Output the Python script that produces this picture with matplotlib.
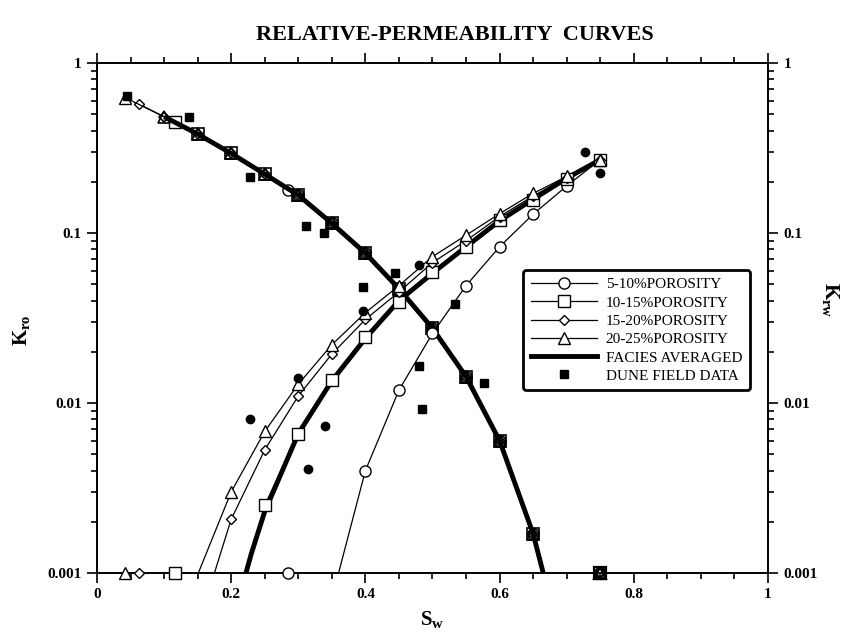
import matplotlib
matplotlib.use("Agg")
import matplotlib.pyplot as plt
from matplotlib.lines import Line2D
from matplotlib.ticker import MultipleLocator, LogLocator, FuncFormatter, NullFormatter

plt.rcParams['font.family'] = ['Liberation Serif', 'DejaVu Serif']
plt.rcParams['mathtext.fontset'] = 'custom'
plt.rcParams['mathtext.rm'] = 'Liberation Serif'
plt.rcParams['mathtext.bf'] = 'Liberation Serif:bold'

# porosity classes
labels = ["5-10%POROSITY", "10-15%POROSITY", "15-20%POROSITY", "20-25%POROSITY"]
markers = ['o', 's', 'D', '^']
msizes = [8, 8, 5.5, 8]

# irreducible water saturation and Kro there (one per class)
swc = [0.285, 0.116, 0.063, 0.042]
kro_swc = [0.179, 0.452, 0.571, 0.625]

# shared Kro curve
kro_sw = [0.10, 0.15, 0.20, 0.25, 0.30, 0.35, 0.40, 0.45, 0.50, 0.55, 0.60, 0.65]
kro_val = [0.483, 0.382, 0.294, 0.222, 0.167, 0.114, 0.076, 0.047, 0.0275, 0.0143, 0.006, 0.0017]
kro_end_sw = 0.665
sw_max = 0.75

# Krw curves (first point is where the line leaves the bottom axis)
krw_sw = [
    [0.36, 0.40, 0.45, 0.50, 0.55, 0.60, 0.65, 0.70, 0.75],
    [0.222, 0.25, 0.30, 0.35, 0.40, 0.45, 0.50, 0.55, 0.60, 0.65, 0.70, 0.75],
    [0.175, 0.20, 0.25, 0.30, 0.35, 0.40, 0.45, 0.50, 0.55, 0.60, 0.65, 0.70, 0.75],
    [0.151, 0.20, 0.25, 0.30, 0.35, 0.40, 0.45, 0.50, 0.55, 0.60, 0.65, 0.70, 0.75],
]
krw_val = [
    [0.001, 0.004, 0.0119, 0.0257, 0.049, 0.083, 0.129, 0.189, 0.27],
    [0.001, 0.0025, 0.0066, 0.0137, 0.0246, 0.0394, 0.059, 0.083, 0.119, 0.156, 0.208, 0.27],
    [0.001, 0.00207, 0.0053, 0.011, 0.0194, 0.031, 0.045, 0.067, 0.09, 0.125, 0.165, 0.212, 0.27],
    [0.001, 0.003, 0.0068, 0.0129, 0.022, 0.034, 0.049, 0.0726, 0.097, 0.13, 0.171, 0.215, 0.27],
]

# facies averaged Krw
avg_krw_sw = [0.222, 0.23, 0.25, 0.30, 0.35, 0.40, 0.45, 0.50, 0.55, 0.60, 0.65, 0.70, 0.75]
avg_krw_val = [0.001, 0.0013, 0.0023, 0.0066, 0.0135, 0.024, 0.04, 0.058, 0.083, 0.118, 0.158, 0.21, 0.27]

# dune field data
dune_kro_sw = [0.045, 0.137, 0.228, 0.312, 0.339, 0.397, 0.444, 0.48, 0.484, 0.533, 0.577]
dune_kro = [0.64, 0.483, 0.214, 0.110, 0.100, 0.048, 0.058, 0.0164, 0.0092, 0.038, 0.0132]
dune_krw_sw = [0.228, 0.30, 0.314, 0.34, 0.397, 0.48, 0.727, 0.75]
dune_krw = [0.0081, 0.014, 0.0041, 0.0073, 0.035, 0.065, 0.298, 0.224]

ymin = 0.001

fig = plt.figure(figsize=(8.42, 6.37), dpi=100)
ax = fig.add_axes([97/842, 64/637, 671/842, 510/637])
ax.set_yscale('log')
ax.set_xlim(0, 1)
ax.set_ylim(ymin, 1)

for i in range(4):
    m, ms = markers[i], msizes[i]
    # Kro: starts at Swc then follows the shared curve
    xs = [swc[i]] + [s for s in kro_sw if s > swc[i] + 0.01] + [kro_end_sw]
    ys = [kro_swc[i]] + [v for s, v in zip(kro_sw, kro_val) if s > swc[i] + 0.01] + [ymin]
    ax.plot(xs, ys, color='k', lw=0.9, zorder=2)
    ax.plot(xs[:1], ys[:1], ls='none', marker=m, ms=ms, mfc='white', mec='k', mew=1.0, zorder=2)
    ax.plot(xs[1:-1], ys[1:-1], ls='none', marker=m, ms=ms, mfc='none', mec='k', mew=1.2, zorder=2)
    # Krw
    ax.plot(krw_sw[i], krw_val[i], color='k', lw=0.9, zorder=4)
    ax.plot(krw_sw[i][1:], krw_val[i][1:], ls='none', marker=m, ms=ms, mfc='white', mec='k',
            mew=1.0, zorder=5)
    # zero values drawn on the bottom axis
    ax.plot([swc[i]], [ymin], ls='none', marker=m, ms=ms, mfc='white', mec='k',
            mew=1.0, zorder=6, clip_on=False)
    ax.plot([sw_max], [ymin], ls='none', marker=m, ms=ms, mfc='none', mec='k',
            mew=1.6, zorder=6, clip_on=False)

# facies averaged
ax.plot(kro_sw + [kro_end_sw], kro_val + [ymin], color='k', lw=3.5, zorder=3, solid_capstyle='butt')
ax.plot(avg_krw_sw, avg_krw_val, color='k', lw=3.5, zorder=3, solid_capstyle='butt')

# dune field data
ax.plot(dune_kro_sw, dune_kro, ls='none', marker='s', ms=6, color='k', zorder=6)
ax.plot(dune_krw_sw, dune_krw, ls='none', marker='o', ms=6, color='k', zorder=6)

# axes styling
for sp in ax.spines.values():
    sp.set_linewidth(1.4)
ax.xaxis.set_major_locator(MultipleLocator(0.2))
ax.xaxis.set_minor_locator(MultipleLocator(0.05))
ax.yaxis.set_major_locator(LogLocator(base=10, numticks=10))
ax.yaxis.set_minor_locator(LogLocator(base=10, subs=range(2, 10), numticks=20))
ax.yaxis.set_minor_formatter(NullFormatter())
fmt = FuncFormatter(lambda v, _: f"{v:g}")
ax.xaxis.set_major_formatter(fmt)
ax.yaxis.set_major_formatter(fmt)
ax.tick_params(which='both', direction='out', top=True, right=True, labelright=True,
               labeltop=False, width=1.2)
ax.tick_params(which='major', length=7, labelsize=11, pad=4)
ax.tick_params(which='minor', length=4)
for t in ax.get_xticklabels() + ax.get_yticklabels():
    t.set_fontweight('bold')

fig.text(22/842, 1 - 330/637, r'$\mathbf{K}_{\mathbf{ro}}$', rotation=90, fontsize=15,
         ha='center', va='center')
fig.text(830/842, 1 - 300/637, r'$\mathbf{K}_{\mathbf{rw}}$', rotation=270, fontsize=15,
         ha='center', va='center')
fig.text(432/842, 1 - 620/637, r'$\mathbf{S}_{\mathbf{w}}$', fontsize=15, ha='center', va='center')
fig.text(455/842, 1 - 35/637, "RELATIVE-PERMEABILITY  CURVES", fontsize=16, fontweight='bold',
         ha='center', va='center')

handles = [Line2D([], [], color='k', lw=0.9, marker=markers[i], ms=msizes[i], mfc='white', mec='k')
           for i in range(4)]
handles.append(Line2D([], [], color='k', lw=3.5))
handles.append(Line2D([], [], ls='none', marker='s', ms=6, color='k'))
leg = ax.legend(handles, labels + ["FACIES AVERAGED", "DUNE FIELD DATA"], loc='upper right',
                bbox_to_anchor=(0.973, 0.594), borderaxespad=0, numpoints=1, handlelength=4.3,
                labelspacing=0.3, fontsize=11, frameon=True, fancybox=True, framealpha=1,
                edgecolor='k', handletextpad=0.6, borderpad=0.5)
leg.get_frame().set_linewidth(2.0)

fig.savefig("out.png", dpi=100)
